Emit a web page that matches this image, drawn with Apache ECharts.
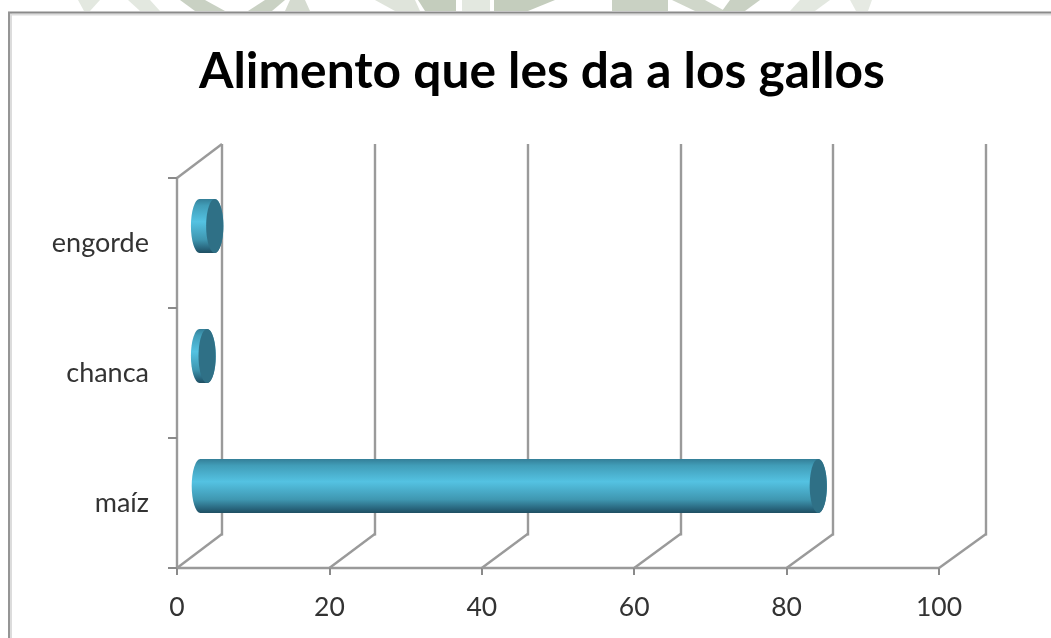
<!DOCTYPE html>
<html><head><meta charset="utf-8">
<style>html,body{margin:0;padding:0;background:#fff}#c{width:1051px;height:638px;filter:blur(0.7px)}</style>
<script src="https://cdn.jsdelivr.net/npm/echarts@6/dist/echarts.min.js"></script>
</head><body><div id="c"></div>
<script>
const titleText = 'Alimento que les da a los gallos';
const categories = ['maíz', 'chanca', 'engorde'];
const values = [81.1, 1, 2];
const xMin = 0, xMax = 100, xStep = 20;
const xTicks = [0, 20, 40, 60, 80, 100];

const front = {left: 177, top: 178, width: 762, height: 390};
const back = {left: 222, top: 144, width: 764, height: 391.5};
const dy = back.top - front.top;
const depthX = v => back.left + v / xMax * back.width - (front.left + v / xMax * front.width);
const lineColor = '#9a9a9a';

const bodyFill = new echarts.graphic.LinearGradient(0, 0, 0, 1, [
  {offset: 0, color: '#347f98'},
  {offset: 0.12, color: '#419db8'},
  {offset: 0.42, color: '#54c2e2'},
  {offset: 0.75, color: '#3f97b1'},
  {offset: 0.93, color: '#276279'},
  {offset: 1, color: '#1f4f62'}
]);

function renderCylinder(params, api) {
  const v = api.value(0);
  const base = api.coord([0, api.value(1)]);
  const end = api.coord([v, api.value(1)]);
  const band = api.size([0, 1])[1];
  const midX = depthX(v) / 2, midY = dy / 2;
  const h = band * 0.415, rx = 8.6;
  const x0 = base[0] + midX, x1 = end[0] + midX, cy = base[1] + midY;
  const top = cy - h / 2;
  const r = h / 2;
  const d = `M${x0} ${top} L${x1} ${top} A${rx} ${r} 0 0 1 ${x1} ${top + h} L${x0} ${top + h} A${rx} ${r} 0 0 1 ${x0} ${top} Z`;
  return {type: 'group', children: [
    {type: 'path', shape: {pathData: d, x: x0 - rx, y: top, width: x1 - x0 + 2 * rx, height: h, layout: 'cover'},
      style: {fill: bodyFill, stroke: null}},
    {type: 'ellipse', shape: {cx: x1, cy: cy, rx: rx, ry: r}, style: {fill: '#2f7086'}}
  ]};
}

function renderDepthLine(params, api) {
  const v = api.value(0);
  const cs = params.coordSys;
  const x = api.coord([v, 0])[0];
  const y = cs.y + cs.height;
  const style = {stroke: lineColor, lineWidth: 2.4, fill: null};
  const kids = [{type: 'line', shape: {x1: x, y1: y, x2: x + depthX(v), y2: y + dy}, style}];
  if (v === xMin) kids.push({type: 'line', shape: {x1: x, y1: cs.y, x2: x + depthX(v), y2: cs.y + dy}, style});
  return {type: 'group', children: kids};
}

const wm = (pts, fill) => ({type: 'polygon', silent: true, z: 0, shape: {points: pts}, style: {fill}});
const chart = echarts.init(document.getElementById('c'), null, {renderer: 'canvas'});
chart.setOption({
  animation: false,
  backgroundColor: '#fff',
  title: {text: titleText, left: 537, top: 42, textAlign: 'center',
    textStyle: {fontFamily: 'Lato', fontWeight: 'bold', fontSize: 49.7, color: '#000'}},
  graphic: [
    wm([[78,0],[100,0],[90,11],[84,11]], '#e3e8e0'),
    wm([[128,0],[150,0],[160,11],[140,11]], '#e3e8e0'),
    wm([[180,0],[205,0],[225,11],[195,11]], '#c9d1c3'),
    wm([[265,0],[285,0],[272,11],[248,11]], '#c9d1c3'),
    wm([[290,0],[305,0],[310,11],[285,11]], '#d5dbd0'),
    wm([[375,0],[415,0],[420,11],[395,11]], '#dfe4db'),
    wm([[418,0],[456,0],[456,11],[425,11]], '#c4cdbd'),
    wm([[462,0],[490,0],[490,11],[462,11]], '#e3e8e0'),
    wm([[494,0],[555,0],[528,11],[494,11]], '#c4cdbd'),
    wm([[612,0],[668,0],[668,11],[612,11]], '#c9d1c3'),
    wm([[672,0],[705,0],[725,11],[695,11]], '#d0d7ca'),
    wm([[730,0],[760,0],[745,11],[722,11]], '#c9d1c3'),
    wm([[800,0],[830,0],[815,11],[790,11]], '#e3e8e0'),
    wm([[850,0],[872,0],[868,11],[856,11]], '#e6eae3'),
    {type: 'rect', silent: true, z: 1, shape: {x: 8, y: 13.5, width: 1043, height: 2}, style: {fill: '#dcdcdc'}},
    {type: 'rect', silent: true, z: 1, shape: {x: 10, y: 13, width: 2, height: 625}, style: {fill: '#dcdcdc'}},
    {type: 'rect', silent: true, z: 1, shape: {x: 8, y: 11.5, width: 1043, height: 2}, style: {fill: '#8a8a8a'}},
    {type: 'rect', silent: true, z: 1, shape: {x: 8, y: 12, width: 2, height: 626}, style: {fill: '#959595'}}
  ],
  grid: [
    {left: front.left, top: front.top, width: front.width, height: front.height},
    {left: back.left, top: back.top, width: back.width, height: back.height}
  ],
  xAxis: [
    {gridIndex: 0, type: 'value', min: xMin, max: xMax, interval: xStep,
      axisLine: {show: true, lineStyle: {color: lineColor, width: 2.4}},
      axisTick: {show: true, length: 7, lineStyle: {color: '#8a8a8a', width: 2}},
      splitLine: {show: false},
      axisLabel: {margin: 26, fontFamily: 'Lato', fontSize: 26.5, color: '#333', showMinLabel: true, showMaxLabel: true}},
    {gridIndex: 1, type: 'value', min: xMin, max: xMax, interval: xStep,
      axisLine: {show: false}, axisTick: {show: false}, axisLabel: {show: false},
      splitLine: {show: true, lineStyle: {color: lineColor, width: 2.4}}}
  ],
  yAxis: [
    {gridIndex: 0, type: 'category', data: categories,
      axisLine: {show: true, lineStyle: {color: lineColor, width: 2.4}},
      axisTick: {show: true, length: 9, alignWithLabel: false, lineStyle: {color: '#8a8a8a', width: 2}},
      axisLabel: {margin: 28, fontFamily: 'Lato', fontSize: 27, color: '#333'}},
    {gridIndex: 1, type: 'category', data: categories, show: false}
  ],
  series: [
    {type: 'custom', xAxisIndex: 0, yAxisIndex: 0, renderItem: renderDepthLine, silent: true, z: 2,
      clip: false, data: xTicks.map(v => [v])},
    {type: 'custom', xAxisIndex: 0, yAxisIndex: 0, renderItem: renderCylinder, z: 5, clip: false,
      encode: {x: 0, y: 1},
      data: values.map((v, i) => [v, i])}
  ]
});
</script></body></html>
